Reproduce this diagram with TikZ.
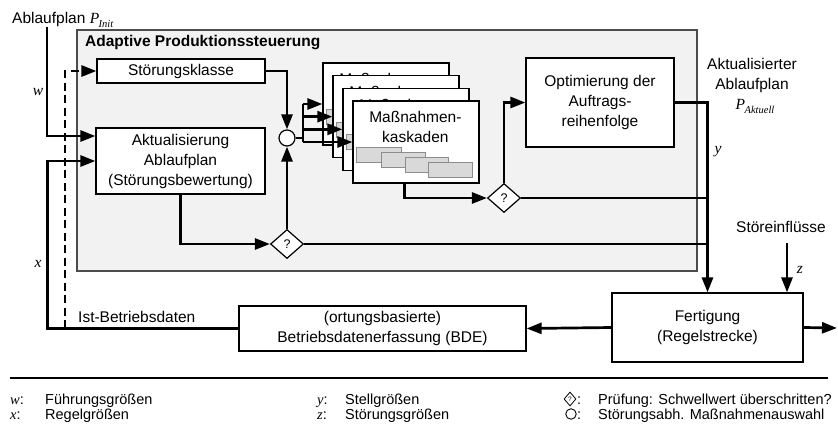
\documentclass[tikz,border=0pt]{standalone}
\usepackage{fontspec}
\setmainfont{Liberation Sans}
\newfontfamily\tnr{Liberation Serif}
\usetikzlibrary{arrows.meta,shapes.geometric,calc}

\newcommand{\sym}[1]{{\tnr\itshape #1}}
\newcommand{\plan}[1]{{\tnr\itshape P\kern-0.5pt\raisebox{-4pt}{\fontsize{10.5}{10.5}\selectfont #1}}}

\begin{document}
\begin{tikzpicture}[x=1pt,y=-1pt,
  font=\fontsize{15.5}{20}\selectfont,
  flow/.style={line width=2.7pt, line join=miter},
  arr/.style={flow, -{Triangle[length=15pt,width=11pt]}},
  dashflow/.style={arr, dash pattern=on 8pt off 4.5pt},
  box/.style={draw, line width=1.2pt, fill=white, align=center, inner sep=0pt},
  panel/.style={draw=black!70, line width=1.5pt, fill=black!5, inner sep=0pt},
  card/.style={box, minimum width=126pt, minimum height=82pt},
  chip/.style={draw=black!45, line width=0.9pt, fill=black!15},
  dia/.style={draw, fill=white, line width=1.2pt, shape=diamond, inner sep=0pt,
    minimum width=33pt, minimum height=29pt, font=\fontsize{12.5}{12.5}\selectfont},
  junction/.style={draw, fill=white, line width=1.2pt, circle, inner sep=0pt, minimum size=16pt},
  lbl/.style={inner sep=0pt, align=center},
  legend/.style={inner sep=0pt, anchor=base west, font=\fontsize{14.5}{16}\selectfont}
]
\useasboundingbox (0,0) rectangle (838,424);

% control block
\node[panel, minimum width=620pt, minimum height=241pt] (ctrl) at (387,150.5) {};
\node[lbl, anchor=west, font=\fontsize{15.5}{20}\selectfont\bfseries] (title) at (85,43) {Adaptive Produktionssteuerung};

% blocks
\node[box, minimum width=168pt, minimum height=24pt] (sk) at (181,71) {Störungsklasse};
\node[box, minimum width=169pt, minimum height=66pt] (akt) at (180.5,161) {Aktualisierung\\Ablaufplan\\(Störungsbewertung)};
\node[box, minimum width=148pt, minimum height=89pt] (opt) at (600,102.5) {Optimierung der\\Auftrags-\\reihenfolge};
\node[box, minimum width=287pt, minimum height=45pt] (bde) at (382.5,328.5) {(ortungsbasierte)\\Betriebsdatenerfassung (BDE)};
\node[box, minimum width=191pt, minimum height=69pt] (fert) at (707.5,327.5) {Fertigung\\(Regelstrecke)};

% stacked cascade cards, back to front
\foreach \k/\n in {0/1,1/2,2/3,3/4} {
  \node[card] (card\n) at ({386+10*\k},{104+12.67*\k}) {};
  \draw[chip] ($(card\n.north west)+(4,47)$) rectangle +(45,15);
  \draw[chip] ($(card\n.north west)+(29,52)$) rectangle +(44,15);
  \draw[chip] ($(card\n.north west)+(53,57)$) rectangle +(43,15);
  \draw[chip] ($(card\n.north west)+(76,62)$) rectangle +(44,15);
  \node[lbl] (cardtxt\n) at ($(card\n.north west)+(63,27)$) {Maßnahmen-\\kaskaden};
}

% decision and selection elements
\node[junction] (circ) at (287,138) {};
\node[dia] (d1) at (287,244) {?};
\node[dia] (d2) at (504,198) {?};

% free ends and branch points
\coordinate (pinit) at (47,27);
\coordinate (branch) at (303,138);
\coordinate (zin) at (787,243);
\coordinate (out) at (837,328);
\coordinate (dsplit) at (65,328);

% inputs
\draw[arr] (pinit) |- ($(akt.west)+(0,-25)$);
\draw[arr] (bde.west) -| ($(akt.west)+(-48,0)$) -- (akt.west);
\draw[dashflow] (dsplit) |- (sk.west);

% inside the control block
\draw[arr] (sk.east) -| (circ.north);
\draw[arr] (akt.south) |- (d1.west);
\draw[arr] (d1.north) -- (circ.south);
\draw[flow] (circ.east) -- (branch);
\draw[flow] (branch |- card1.west) -- (branch |- card4.west);
\foreach \n in {1,2,3,4} \draw[arr] (branch |- card\n.west) -- (card\n.west);
\draw[arr] ($(card4.south west)+(52,0)$) |- (d2.west);
\draw[arr] (d2.north) |- (opt.west);
\draw[flow] (d2.east) -- (fert.north |- d2.east);
\draw[flow] (d1.east) -- (fert.north |- d1.east);
\draw[arr] (opt.east) -| (fert.north);

% plant and feedback
\draw[arr] (zin) -- (zin |- fert.north);
\draw[arr] (fert.west) -- (bde.east);
\draw[arr] (fert.east) -- (out);

% labels
\node[lbl, anchor=base west] (lpinit) at (12,23) {Ablaufplan \plan{Init}};
\node[lbl] (lw) at (38,92) {\sym{w}};
\node[lbl] (lx) at (38,264) {\sym{x}};
\node[lbl, anchor=west] (list) at (78,317) {Ist-Betriebsdaten};
\node[lbl] (lakt) at (752,75) {Aktualisierter\\Ablaufplan};
\node[lbl] (lpakt) at (755,106) {\plan{Aktuell}};
\node[lbl] (ly) at (718,152) {\sym{y}};
\node[lbl] (lstoer) at (781,227) {Störeinflüsse};
\node[lbl] (lz) at (800,270) {\sym{z}};

% legend
\draw[line width=2pt] (10,378) -- (828,378);
\node[legend] (kw) at (10,404) {\sym{w}:};
\node[legend] (tw) at (45,404) {Führungsgrößen};
\node[legend] (kx) at (10,419) {\sym{x}:};
\node[legend] (tx) at (45,419) {Regelgrößen};
\node[legend] (ky) at (317,404) {\sym{y}:};
\node[legend] (ty) at (345,404) {Stellgrößen};
\node[legend] (kz) at (317,419) {\sym{z}:};
\node[legend] (tz) at (345,419) {Störungsgrößen};
\node[draw, line width=0.8pt, shape=diamond, inner sep=0pt, minimum width=12pt, minimum height=14pt,
  font=\fontsize{6.5}{6.5}\selectfont] (kdia) at (570,399) {?};
\node[legend] (kdiac) at (577,404) {:};
\node[legend] (tdia) at (598,404) {Prüfung: Schwellwert überschritten?};
\node[draw, line width=0.9pt, circle, inner sep=0pt, minimum size=10.5pt] (kcirc) at (571,414) {};
\node[legend] (kcircc) at (577,419) {:};
\node[legend] (tcirc) at (598,419) {Störungsabh. Maßnahmenauswahl};
\end{tikzpicture}
\end{document}
